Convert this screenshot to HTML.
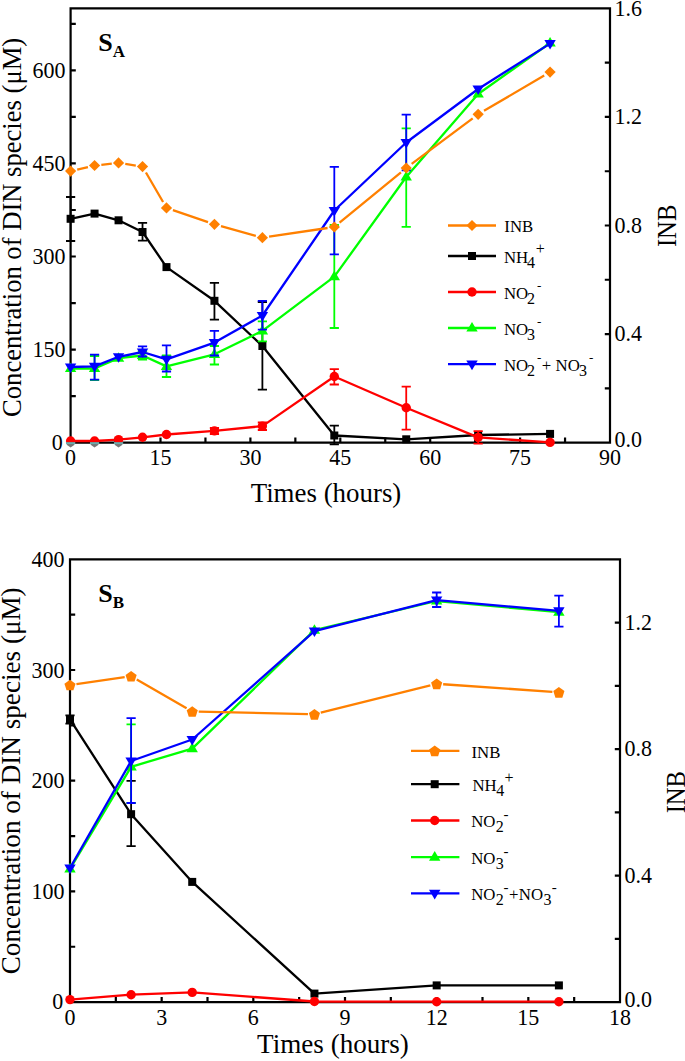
<!DOCTYPE html>
<html><head><meta charset="utf-8"><title>DIN species</title>
<style>
html,body{margin:0;padding:0;background:#fff;}
body{width:685px;height:1061px;overflow:hidden;font-family:"Liberation Serif", serif;}
svg{display:block;}
</style></head><body>
<svg width="685" height="1061" viewBox="0 0 685 1061" font-family='"Liberation Serif", serif'>
<rect width="685" height="1061" fill="#ffffff"/>
<path d="M70.6 8.4H610V442.6H70.6Z" fill="none" stroke="#000" stroke-width="2.2"/>
<path d="M115.55 442.6V437.4M160.5 442.6V437.4M205.45 442.6V437.4M250.4 442.6V437.4M295.35 442.6V437.4M340.3 442.6V437.4M385.25 442.6V437.4M430.2 442.6V437.4M475.15 442.6V437.4M520.1 442.6V437.4M565.05 442.6V437.4M70.6 396.08H75.8M70.6 349.56H75.8M70.6 303.04H75.8M70.6 256.51H75.8M70.6 209.99H75.8M70.6 163.47H75.8M70.6 116.95H75.8M70.6 70.43H75.8M70.6 23.91H75.8M610 388.33H604.8M610 334.05H604.8M610 279.77H604.8M610 225.5H604.8M610 171.23H604.8M610 116.95H604.8M610 62.67H604.8" stroke="#000" stroke-width="2.2" fill="none"/>
<polyline points="70.6,218.8 94.57,213.6 118.55,220.3 142.52,232 166.49,267.1 214.44,300.8 262.39,346 334.31,435.5 406.23,439.3 478.15,435 550.07,433.9" fill="none" stroke="#000000" stroke-width="2.3" stroke-linejoin="round"/>
<path d="M70.6 197V241M66 197H75.2M66 241H75.2" stroke="#000000" stroke-width="1.8" fill="none"/>
<path d="M142.52 222.8V240.6M137.92 222.8H147.12M137.92 240.6H147.12" stroke="#000000" stroke-width="1.8" fill="none"/>
<path d="M214.44 282.9V319.7M209.84 282.9H219.04M209.84 319.7H219.04" stroke="#000000" stroke-width="1.8" fill="none"/>
<path d="M262.39 302V389.7M257.79 302H266.99M257.79 389.7H266.99" stroke="#000000" stroke-width="1.8" fill="none"/>
<path d="M334.31 425.7V444.3M329.71 425.7H338.91M329.71 444.3H338.91" stroke="#000000" stroke-width="1.8" fill="none"/>
<rect x="66.6" y="214.8" width="8" height="8" fill="#000000"/>
<rect x="90.57" y="209.6" width="8" height="8" fill="#000000"/>
<rect x="114.55" y="216.3" width="8" height="8" fill="#000000"/>
<rect x="138.52" y="228" width="8" height="8" fill="#000000"/>
<rect x="162.49" y="263.1" width="8" height="8" fill="#000000"/>
<rect x="210.44" y="296.8" width="8" height="8" fill="#000000"/>
<rect x="258.39" y="342" width="8" height="8" fill="#000000"/>
<rect x="330.31" y="431.5" width="8" height="8" fill="#000000"/>
<rect x="402.23" y="435.3" width="8" height="8" fill="#000000"/>
<rect x="474.15" y="431" width="8" height="8" fill="#000000"/>
<rect x="546.07" y="429.9" width="8" height="8" fill="#000000"/>
<polyline points="70.6,368.5 94.57,368.5 118.55,358.2 142.52,355.5 166.49,366.4 214.44,354.3 262.39,330.8 334.31,276.6 406.23,177 478.15,94 550.07,43" fill="none" stroke="#00ff00" stroke-width="2.3" stroke-linejoin="round"/>
<path d="M94.57 356V380M89.97 356H99.17M89.97 380H99.17" stroke="#00ff00" stroke-width="1.8" fill="none"/>
<path d="M166.49 355.5V377M161.89 355.5H171.09M161.89 377H171.09" stroke="#00ff00" stroke-width="1.8" fill="none"/>
<path d="M214.44 346V364.5M209.84 346H219.04M209.84 364.5H219.04" stroke="#00ff00" stroke-width="1.8" fill="none"/>
<path d="M262.39 321.3V341.4M257.79 321.3H266.99M257.79 341.4H266.99" stroke="#00ff00" stroke-width="1.8" fill="none"/>
<path d="M334.31 225V328M329.71 225H338.91M329.71 328H338.91" stroke="#00ff00" stroke-width="1.8" fill="none"/>
<path d="M406.23 128.4V226.9M401.63 128.4H410.83M401.63 226.9H410.83" stroke="#00ff00" stroke-width="1.8" fill="none"/>
<path d="M142.52 351V359.5M137.92 351H147.12M137.92 359.5H147.12" stroke="#00ff00" stroke-width="1.8" fill="none"/>
<path d="M70.6 362.5L76.3 372.1L64.9 372.1Z" fill="#00ff00"/>
<path d="M94.57 362.5L100.27 372.1L88.87 372.1Z" fill="#00ff00"/>
<path d="M118.55 352.2L124.25 361.8L112.85 361.8Z" fill="#00ff00"/>
<path d="M142.52 349.5L148.22 359.1L136.82 359.1Z" fill="#00ff00"/>
<path d="M166.49 360.4L172.19 370L160.79 370Z" fill="#00ff00"/>
<path d="M214.44 348.3L220.14 357.9L208.74 357.9Z" fill="#00ff00"/>
<path d="M262.39 324.8L268.09 334.4L256.69 334.4Z" fill="#00ff00"/>
<path d="M334.31 270.6L340.01 280.2L328.61 280.2Z" fill="#00ff00"/>
<path d="M406.23 171L411.93 180.6L400.53 180.6Z" fill="#00ff00"/>
<path d="M478.15 88L483.85 97.6L472.45 97.6Z" fill="#00ff00"/>
<path d="M550.07 37L555.77 46.6L544.37 46.6Z" fill="#00ff00"/>
<polyline points="70.6,367 94.57,366.4 118.55,356.8 142.52,352 166.49,359.3 214.44,342.6 262.39,315.5 334.31,210.5 406.23,142.5 478.15,89 550.07,43.6" fill="none" stroke="#0000ff" stroke-width="2.3" stroke-linejoin="round"/>
<path d="M94.57 354.6V379.6M89.97 354.6H99.17M89.97 379.6H99.17" stroke="#0000ff" stroke-width="1.8" fill="none"/>
<path d="M142.52 346.3V356.5M137.92 346.3H147.12M137.92 356.5H147.12" stroke="#0000ff" stroke-width="1.8" fill="none"/>
<path d="M166.49 345.4V371.5M161.89 345.4H171.09M161.89 371.5H171.09" stroke="#0000ff" stroke-width="1.8" fill="none"/>
<path d="M214.44 330.8V355.5M209.84 330.8H219.04M209.84 355.5H219.04" stroke="#0000ff" stroke-width="1.8" fill="none"/>
<path d="M262.39 300.8V329.6M257.79 300.8H266.99M257.79 329.6H266.99" stroke="#0000ff" stroke-width="1.8" fill="none"/>
<path d="M334.31 166.8V254.4M329.71 166.8H338.91M329.71 254.4H338.91" stroke="#0000ff" stroke-width="1.8" fill="none"/>
<path d="M406.23 114.7V170.3M401.63 114.7H410.83M401.63 170.3H410.83" stroke="#0000ff" stroke-width="1.8" fill="none"/>
<path d="M70.6 373L76.3 363.4L64.9 363.4Z" fill="#0000ff"/>
<path d="M94.57 372.4L100.27 362.8L88.87 362.8Z" fill="#0000ff"/>
<path d="M118.55 362.8L124.25 353.2L112.85 353.2Z" fill="#0000ff"/>
<path d="M142.52 358L148.22 348.4L136.82 348.4Z" fill="#0000ff"/>
<path d="M166.49 365.3L172.19 355.7L160.79 355.7Z" fill="#0000ff"/>
<path d="M214.44 348.6L220.14 339L208.74 339Z" fill="#0000ff"/>
<path d="M262.39 321.5L268.09 311.9L256.69 311.9Z" fill="#0000ff"/>
<path d="M334.31 216.5L340.01 206.9L328.61 206.9Z" fill="#0000ff"/>
<path d="M406.23 148.5L411.93 138.9L400.53 138.9Z" fill="#0000ff"/>
<path d="M478.15 95L483.85 85.4L472.45 85.4Z" fill="#0000ff"/>
<path d="M550.07 49.6L555.77 40L544.37 40Z" fill="#0000ff"/>
<polyline points="70.6,441 94.57,441 118.55,439.6 142.52,437.3 166.49,434.5 214.44,430.9 262.39,426.1 334.31,376.5 406.23,407.7 478.15,437.4 550.07,442.4" fill="none" stroke="#ff0000" stroke-width="2.3" stroke-linejoin="round"/>
<path d="M334.31 369.2V384.5M329.71 369.2H338.91M329.71 384.5H338.91" stroke="#ff0000" stroke-width="1.8" fill="none"/>
<path d="M406.23 386.7V429.6M401.63 386.7H410.83M401.63 429.6H410.83" stroke="#ff0000" stroke-width="1.8" fill="none"/>
<path d="M214.44 428V434M209.84 428H219.04M209.84 434H219.04" stroke="#ff0000" stroke-width="1.8" fill="none"/>
<path d="M262.39 422.5V430M257.79 422.5H266.99M257.79 430H266.99" stroke="#ff0000" stroke-width="1.8" fill="none"/>
<path d="M478.15 431.1V443.7M473.55 431.1H482.75M473.55 443.7H482.75" stroke="#ff0000" stroke-width="1.8" fill="none"/>
<circle cx="70.6" cy="441" r="4.7" fill="#ff0000"/>
<circle cx="94.57" cy="441" r="4.7" fill="#ff0000"/>
<circle cx="118.55" cy="439.6" r="4.7" fill="#ff0000"/>
<circle cx="142.52" cy="437.3" r="4.7" fill="#ff0000"/>
<circle cx="166.49" cy="434.5" r="4.7" fill="#ff0000"/>
<circle cx="214.44" cy="430.9" r="4.7" fill="#ff0000"/>
<circle cx="262.39" cy="426.1" r="4.7" fill="#ff0000"/>
<circle cx="334.31" cy="376.5" r="4.7" fill="#ff0000"/>
<circle cx="406.23" cy="407.7" r="4.7" fill="#ff0000"/>
<circle cx="478.15" cy="437.4" r="4.7" fill="#ff0000"/>
<circle cx="550.07" cy="442.4" r="4.7" fill="#ff0000"/>
<path d="M65.9 442.3L75.3 442.3L74.2 445L70.6 447.6L67 445Z" fill="#777777"/>
<rect x="66" y="442.3" width="9.2" height="1.8" fill="#6aaeae"/>
<path d="M89.87 442.3L99.27 442.3L98.17 445L94.57 447.6L90.97 445Z" fill="#777777"/>
<rect x="89.97" y="442.3" width="9.2" height="1.8" fill="#6aaeae"/>
<path d="M113.85 442.3L123.25 442.3L122.15 445L118.55 447.6L114.95 445Z" fill="#777777"/>
<rect x="113.95" y="442.3" width="9.2" height="1.8" fill="#6aaeae"/>
<path d="M77.22 169.55L87.95 167.05M101.33 164.77L111.79 163.63M125.27 163.94L135.8 165.56M145.93 172.48L163.08 202.02M172.93 210.1L208.01 222.1M220.99 226.13L255.84 235.87M269.11 236.7L327.58 228M339.56 222.69L400.97 172.31M411.68 163.93L472.7 118.37M484.01 110.86L544.2 75.54" fill="none" stroke="#ff8000" stroke-width="2.3"/>
<path d="M70.6 165.5L76.2 171.1L70.6 176.7L65 171.1Z" fill="#ff8000"/>
<path d="M94.57 159.9L100.17 165.5L94.57 171.1L88.97 165.5Z" fill="#ff8000"/>
<path d="M118.55 157.3L124.15 162.9L118.55 168.5L112.95 162.9Z" fill="#ff8000"/>
<path d="M142.52 161L148.12 166.6L142.52 172.2L136.92 166.6Z" fill="#ff8000"/>
<path d="M166.49 202.3L172.09 207.9L166.49 213.5L160.89 207.9Z" fill="#ff8000"/>
<path d="M214.44 218.7L220.04 224.3L214.44 229.9L208.84 224.3Z" fill="#ff8000"/>
<path d="M262.39 232.1L267.99 237.7L262.39 243.3L256.79 237.7Z" fill="#ff8000"/>
<path d="M334.31 221.4L339.91 227L334.31 232.6L328.71 227Z" fill="#ff8000"/>
<path d="M406.23 162.4L411.83 168L406.23 173.6L400.63 168Z" fill="#ff8000"/>
<path d="M478.15 108.7L483.75 114.3L478.15 119.9L472.55 114.3Z" fill="#ff8000"/>
<path d="M550.07 66.5L555.67 72.1L550.07 77.7L544.47 72.1Z" fill="#ff8000"/>
<text transform="translate(70.6 465) scale(1 1.09)" x="0" y="0" font-size="22" text-anchor="middle" font-weight="normal" >0</text>
<text transform="translate(160.5 465) scale(1 1.09)" x="0" y="0" font-size="22" text-anchor="middle" font-weight="normal" >15</text>
<text transform="translate(250.4 465) scale(1 1.09)" x="0" y="0" font-size="22" text-anchor="middle" font-weight="normal" >30</text>
<text transform="translate(340.3 465) scale(1 1.09)" x="0" y="0" font-size="22" text-anchor="middle" font-weight="normal" >45</text>
<text transform="translate(430.2 465) scale(1 1.09)" x="0" y="0" font-size="22" text-anchor="middle" font-weight="normal" >60</text>
<text transform="translate(520.1 465) scale(1 1.09)" x="0" y="0" font-size="22" text-anchor="middle" font-weight="normal" >75</text>
<text transform="translate(610 465) scale(1 1.09)" x="0" y="0" font-size="22" text-anchor="middle" font-weight="normal" >90</text>
<text transform="translate(62.8 450.1) scale(1 1.09)" x="0" y="0" font-size="22" text-anchor="end" font-weight="normal" >0</text>
<text transform="translate(65.6 357.06) scale(1 1.09)" x="0" y="0" font-size="22" text-anchor="end" font-weight="normal" >150</text>
<text transform="translate(65.6 264.01) scale(1 1.09)" x="0" y="0" font-size="22" text-anchor="end" font-weight="normal" >300</text>
<text transform="translate(65.6 170.97) scale(1 1.09)" x="0" y="0" font-size="22" text-anchor="end" font-weight="normal" >450</text>
<text transform="translate(65.6 77.93) scale(1 1.09)" x="0" y="0" font-size="22" text-anchor="end" font-weight="normal" >600</text>
<text transform="translate(614.5 446.7) scale(1 1.09)" x="0" y="0" font-size="22" text-anchor="start" font-weight="normal" >0.0</text>
<text transform="translate(614.5 341.35) scale(1 1.09)" x="0" y="0" font-size="22" text-anchor="start" font-weight="normal" >0.4</text>
<text transform="translate(614.5 232.8) scale(1 1.09)" x="0" y="0" font-size="22" text-anchor="start" font-weight="normal" >0.8</text>
<text transform="translate(614.5 124.25) scale(1 1.09)" x="0" y="0" font-size="22" text-anchor="start" font-weight="normal" >1.2</text>
<text transform="translate(614.5 15.7) scale(1 1.09)" x="0" y="0" font-size="22" text-anchor="start" font-weight="normal" >1.6</text>
<text x="326" y="501.5" font-size="26.9" text-anchor="middle" font-weight="normal" >Times (hours)</text>
<text x="0" y="0" font-size="26.6" text-anchor="middle" transform="translate(21.3 227.4) rotate(-90)">Concentration of DIN species (&#956;M)</text>
<text x="0" y="0" font-size="24.6" text-anchor="middle" transform="translate(675.6 225.9) rotate(-90) scale(1 1.08)">INB</text>
<text x="98.2" y="50.6" font-size="26" font-weight="bold">S<tspan font-size="17" dy="6.5">A</tspan></text>
<path d="M448 225.5H496" stroke="#ff8000" stroke-width="2.3"/>
<path d="M472 219.9L477.6 225.5L472 231.1L466.4 225.5Z" fill="#ff8000"/>
<path d="M448 256H496" stroke="#000000" stroke-width="2.3"/>
<rect x="468" y="252" width="8" height="8" fill="#000000"/>
<path d="M448 292H496" stroke="#ff0000" stroke-width="2.3"/>
<circle cx="472" cy="292" r="4.7" fill="#ff0000"/>
<path d="M448 328H496" stroke="#00ff00" stroke-width="2.3"/>
<path d="M472 322L477.7 331.6L466.3 331.6Z" fill="#00ff00"/>
<path d="M448 364.2H496" stroke="#0000ff" stroke-width="2.3"/>
<path d="M472 370.2L477.7 360.6L466.3 360.6Z" fill="#0000ff"/>
<text x="504.3" y="232.3" font-size="16.8">INB</text>
<text x="504" y="262.8" font-size="16.8">NH</text>
<text x="527" y="267.8" font-size="16.0">4</text>
<text x="535.8" y="254.2" font-size="16.0">+</text>
<text x="504" y="298.8" font-size="16.8">NO</text>
<text x="527" y="303.8" font-size="16.0">2</text>
<text x="537" y="289.5" font-size="13.0">-</text>
<text x="504" y="334.8" font-size="16.8">NO</text>
<text x="527" y="339.8" font-size="16.0">3</text>
<text x="537" y="325.5" font-size="13.0">-</text>
<text x="504" y="371" font-size="16.8">NO</text>
<text x="527" y="376" font-size="16.0">2</text>
<text x="537" y="361.7" font-size="13.0">-</text>
<text x="541.8" y="371" font-size="16.8">+</text>
<text x="555.6" y="371" font-size="16.8">NO</text>
<text x="579" y="376" font-size="16.0">3</text>
<text x="589" y="361.7" font-size="13.0">-</text>
<path d="M70 559.3H620V1002.1H70Z" fill="none" stroke="#000" stroke-width="2.2"/>
<path d="M115.83 1002.1V996.9M161.67 1002.1V996.9M207.5 1002.1V996.9M253.33 1002.1V996.9M299.17 1002.1V996.9M345 1002.1V996.9M390.83 1002.1V996.9M436.67 1002.1V996.9M482.5 1002.1V996.9M528.33 1002.1V996.9M574.17 1002.1V996.9M70 946.75H75.2M70 891.4H75.2M70 836.05H75.2M70 780.7H75.2M70 725.35H75.2M70 670H75.2M70 614.65H75.2M620 938.84H614.8M620 875.59H614.8M620 812.33H614.8M620 749.07H614.8M620 685.81H614.8M620 622.56H614.8" stroke="#000" stroke-width="2.2" fill="none"/>
<polyline points="70,719.4 131.11,814.2 192.22,881.9 314.44,993.6 436.67,985.4 558.89,985.4" fill="none" stroke="#000000" stroke-width="2.3" stroke-linejoin="round"/>
<path d="M70 715.4V723.6M65.4 715.4H74.6M65.4 723.6H74.6" stroke="#000000" stroke-width="1.8" fill="none"/>
<path d="M131.11 780.8V846.2M126.51 780.8H135.71M126.51 846.2H135.71" stroke="#000000" stroke-width="1.8" fill="none"/>
<rect x="66" y="715.4" width="8" height="8" fill="#000000"/>
<rect x="127.11" y="810.2" width="8" height="8" fill="#000000"/>
<rect x="188.22" y="877.9" width="8" height="8" fill="#000000"/>
<rect x="310.44" y="989.6" width="8" height="8" fill="#000000"/>
<rect x="432.67" y="981.4" width="8" height="8" fill="#000000"/>
<rect x="554.89" y="981.4" width="8" height="8" fill="#000000"/>
<polyline points="70,868.8 131.11,766.8 192.22,748.6 314.44,630.2 436.67,601 558.89,612.2" fill="none" stroke="#00ff00" stroke-width="2.3" stroke-linejoin="round"/>
<path d="M131.11 724.3V803M126.51 724.3H135.71M126.51 803H135.71" stroke="#00ff00" stroke-width="1.8" fill="none"/>
<path d="M70 862.8L75.7 872.4L64.3 872.4Z" fill="#00ff00"/>
<path d="M131.11 760.8L136.81 770.4L125.41 770.4Z" fill="#00ff00"/>
<path d="M192.22 742.6L197.92 752.2L186.52 752.2Z" fill="#00ff00"/>
<path d="M314.44 624.2L320.14 633.8L308.74 633.8Z" fill="#00ff00"/>
<path d="M436.67 595L442.37 604.6L430.97 604.6Z" fill="#00ff00"/>
<path d="M558.89 606.2L564.59 615.8L553.19 615.8Z" fill="#00ff00"/>
<polyline points="70,868 131.11,761 192.22,739.5 314.44,631.1 436.67,600.1 558.89,610.9" fill="none" stroke="#0000ff" stroke-width="2.3" stroke-linejoin="round"/>
<path d="M131.11 718.2V803M126.51 718.2H135.71M126.51 803H135.71" stroke="#0000ff" stroke-width="1.8" fill="none"/>
<path d="M436.67 592.5V607M432.07 592.5H441.27M432.07 607H441.27" stroke="#0000ff" stroke-width="1.8" fill="none"/>
<path d="M558.89 595.6V626.6M554.29 595.6H563.49M554.29 626.6H563.49" stroke="#0000ff" stroke-width="1.8" fill="none"/>
<path d="M70 874L75.7 864.4L64.3 864.4Z" fill="#0000ff"/>
<path d="M131.11 767L136.81 757.4L125.41 757.4Z" fill="#0000ff"/>
<path d="M192.22 745.5L197.92 735.9L186.52 735.9Z" fill="#0000ff"/>
<path d="M314.44 637.1L320.14 627.5L308.74 627.5Z" fill="#0000ff"/>
<path d="M436.67 606.1L442.37 596.5L430.97 596.5Z" fill="#0000ff"/>
<path d="M558.89 616.9L564.59 607.3L553.19 607.3Z" fill="#0000ff"/>
<polyline points="70,999.6 131.11,994.7 192.22,992.4 314.44,1001.5 436.67,1001.7 558.89,1001.7" fill="none" stroke="#ff0000" stroke-width="2.3" stroke-linejoin="round"/>
<circle cx="70" cy="999.6" r="4.7" fill="#ff0000"/>
<circle cx="131.11" cy="994.7" r="4.7" fill="#ff0000"/>
<circle cx="192.22" cy="992.4" r="4.7" fill="#ff0000"/>
<circle cx="314.44" cy="1001.5" r="4.7" fill="#ff0000"/>
<circle cx="436.67" cy="1001.7" r="4.7" fill="#ff0000"/>
<circle cx="558.89" cy="1001.7" r="4.7" fill="#ff0000"/>
<path d="M76.43 684.07L124.68 677.13M136.74 679.44L186.59 708.16M198.72 711.55L307.95 714.15M320.75 712.73L430.36 685.37M443.15 684.25L552.4 691.85" fill="none" stroke="#ff8000" stroke-width="2.3"/>
<path d="M70 679.75L75.56 683.79L73.44 690.33L66.56 690.33L64.44 683.79Z" fill="#ff8000"/>
<path d="M131.11 670.95L136.67 674.99L134.55 681.53L127.67 681.53L125.55 674.99Z" fill="#ff8000"/>
<path d="M192.22 706.15L197.79 710.19L195.66 716.73L188.78 716.73L186.66 710.19Z" fill="#ff8000"/>
<path d="M314.44 709.05L320.01 713.09L317.88 719.63L311.01 719.63L308.88 713.09Z" fill="#ff8000"/>
<path d="M436.67 678.55L442.23 682.59L440.11 689.13L433.23 689.13L431.1 682.59Z" fill="#ff8000"/>
<path d="M558.89 687.05L564.45 691.09L562.33 697.63L555.45 697.63L553.33 691.09Z" fill="#ff8000"/>
<text transform="translate(70 1024.5) scale(1 1.09)" x="0" y="0" font-size="22" text-anchor="middle" font-weight="normal" >0</text>
<text transform="translate(161.67 1024.5) scale(1 1.09)" x="0" y="0" font-size="22" text-anchor="middle" font-weight="normal" >3</text>
<text transform="translate(253.33 1024.5) scale(1 1.09)" x="0" y="0" font-size="22" text-anchor="middle" font-weight="normal" >6</text>
<text transform="translate(345 1024.5) scale(1 1.09)" x="0" y="0" font-size="22" text-anchor="middle" font-weight="normal" >9</text>
<text transform="translate(436.67 1024.5) scale(1 1.09)" x="0" y="0" font-size="22" text-anchor="middle" font-weight="normal" >12</text>
<text transform="translate(528.33 1024.5) scale(1 1.09)" x="0" y="0" font-size="22" text-anchor="middle" font-weight="normal" >15</text>
<text transform="translate(620 1024.5) scale(1 1.09)" x="0" y="0" font-size="22" text-anchor="middle" font-weight="normal" >18</text>
<text transform="translate(63.3 1008.8) scale(1 1.09)" x="0" y="0" font-size="22" text-anchor="end" font-weight="normal" >0</text>
<text transform="translate(64.5 898.9) scale(1 1.09)" x="0" y="0" font-size="22" text-anchor="end" font-weight="normal" >100</text>
<text transform="translate(64.5 788.2) scale(1 1.09)" x="0" y="0" font-size="22" text-anchor="end" font-weight="normal" >200</text>
<text transform="translate(64.5 677.5) scale(1 1.09)" x="0" y="0" font-size="22" text-anchor="end" font-weight="normal" >300</text>
<text transform="translate(64.5 566.8) scale(1 1.09)" x="0" y="0" font-size="22" text-anchor="end" font-weight="normal" >400</text>
<text transform="translate(624.5 1006.5) scale(1 1.09)" x="0" y="0" font-size="22" text-anchor="start" font-weight="normal" >0.0</text>
<text transform="translate(624.5 882.89) scale(1 1.09)" x="0" y="0" font-size="22" text-anchor="start" font-weight="normal" >0.4</text>
<text transform="translate(624.5 756.37) scale(1 1.09)" x="0" y="0" font-size="22" text-anchor="start" font-weight="normal" >0.8</text>
<text transform="translate(624.5 629.86) scale(1 1.09)" x="0" y="0" font-size="22" text-anchor="start" font-weight="normal" >1.2</text>
<text x="333" y="1052.8" font-size="27.1" text-anchor="middle" font-weight="normal" >Times (hours)</text>
<text x="0" y="0" font-size="27.15" text-anchor="middle" transform="translate(19.7 780.8) rotate(-90)">Concentration of DIN species (&#956;M)</text>
<text x="0" y="0" font-size="24.6" text-anchor="middle" transform="translate(685.2 792.2) rotate(-90) scale(1 1.08)">INB</text>
<text x="98.2" y="601.5" font-size="26" font-weight="bold">S<tspan font-size="17" dy="6.6">B</tspan></text>
<path d="M411 750.8H459.4" stroke="#ff8000" stroke-width="2.3"/>
<path d="M434.7 745.55L440.26 749.59L438.14 756.13L431.26 756.13L429.14 749.59Z" fill="#ff8000"/>
<path d="M411 784.2H459.4" stroke="#000000" stroke-width="2.3"/>
<rect x="430.7" y="780.2" width="8" height="8" fill="#000000"/>
<path d="M411 820.5H459.4" stroke="#ff0000" stroke-width="2.3"/>
<circle cx="434.7" cy="820.5" r="4.7" fill="#ff0000"/>
<path d="M411 857.1H459.4" stroke="#00ff00" stroke-width="2.3"/>
<path d="M434.7 851.1L440.4 860.7L429 860.7Z" fill="#00ff00"/>
<path d="M411 893.4H459.4" stroke="#0000ff" stroke-width="2.3"/>
<path d="M434.7 899.4L440.4 889.8L429 889.8Z" fill="#0000ff"/>
<text x="471.5" y="757.6" font-size="16.8">INB</text>
<text x="472.5" y="791" font-size="16.8">NH</text>
<text x="496.2" y="796" font-size="16.0">4</text>
<text x="504.6" y="783.4" font-size="16.0">+</text>
<text x="471.2" y="827.3" font-size="16.8">NO</text>
<text x="495.7" y="832.3" font-size="16.0">2</text>
<text x="503.6" y="819.3" font-size="15">-</text>
<text x="471.2" y="863.9" font-size="16.8">NO</text>
<text x="495.7" y="868.9" font-size="16.0">3</text>
<text x="503.6" y="855.9" font-size="15">-</text>
<text x="471.2" y="900.2" font-size="16.8">NO</text>
<text x="495.7" y="905.2" font-size="16.0">2</text>
<text x="503.6" y="892.2" font-size="15">-</text>
<text x="509" y="900.2" font-size="16.8">+</text>
<text x="518.8" y="900.2" font-size="16.8">NO</text>
<text x="543.6" y="905.2" font-size="16.0">3</text>
<text x="551.8" y="892.2" font-size="15">-</text>
</svg>
</body></html>
